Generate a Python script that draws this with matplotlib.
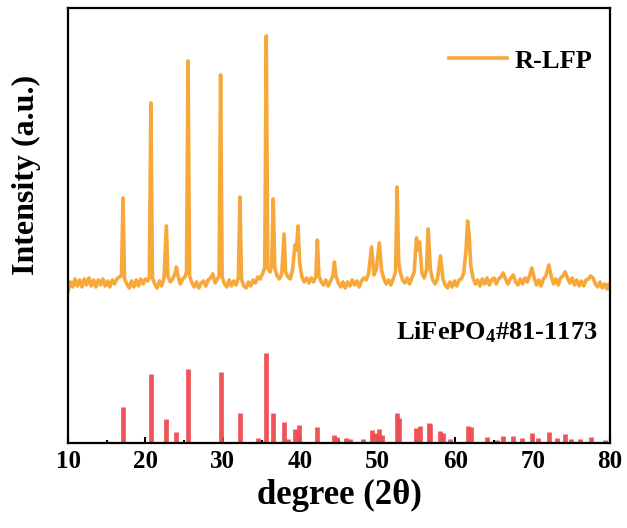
import numpy as np
import matplotlib
matplotlib.use("Agg")
import matplotlib.pyplot as plt
from matplotlib.ticker import MultipleLocator

plt.rcParams['font.family'] = ['Liberation Serif', 'DejaVu Serif']
plt.rcParams['font.weight'] = 'bold'
plt.rcParams['mathtext.fontset'] = 'custom'
plt.rcParams['mathtext.rm'] = 'Liberation Serif:bold'
plt.rcParams['mathtext.default'] = 'rm'

# ---------------- data ----------------
rlfp_2theta = [
    10.0, 10.3, 10.6, 10.9, 11.2, 11.5, 11.8, 12.1, 12.4, 12.7, 13.0, 13.3, 13.6, 13.9,
    14.2, 14.5, 14.8, 15.1, 15.4, 15.7, 16.0, 16.3, 16.6, 16.9, 17.1, 17.3, 17.6, 17.9,
    18.2, 18.5, 18.8, 19.1, 19.4, 19.7, 20.0, 20.3, 20.5, 20.7, 20.9, 21.2, 21.5, 21.8,
    22.1, 22.4, 22.7, 22.9, 23.2, 23.5, 23.8, 24.0, 24.2, 24.5, 24.8, 25.1, 25.3, 25.5,
    25.7, 26.0, 26.3, 26.6, 26.9, 27.2, 27.5, 27.8, 28.1, 28.4, 28.7, 29.0, 29.3, 29.5,
    29.7, 29.9, 30.2, 30.5, 30.8, 31.1, 31.4, 31.7, 32.0, 32.2, 32.4, 32.7, 33.0, 33.3,
    33.6, 33.9, 34.2, 34.5, 34.8, 35.1, 35.4, 35.6, 35.8, 36.1, 36.3, 36.5, 36.7, 37.0,
    37.3, 37.6, 37.9, 38.1, 38.4, 38.7, 39.0, 39.3, 39.5, 39.7, 39.9, 40.2, 40.5, 40.8,
    41.1, 41.4, 41.7, 42.0, 42.2, 42.4, 42.7, 43.0, 43.3, 43.6, 43.9, 44.2, 44.4, 44.6,
    44.9, 45.2, 45.5, 45.8, 46.1, 46.4, 46.7, 47.0, 47.3, 47.6, 47.9, 48.2, 48.5, 48.8,
    49.2, 49.5, 49.8, 50.2, 50.5, 50.8, 51.1, 51.4, 51.7, 52.0, 52.3, 52.5, 52.7, 52.9,
    53.2, 53.5, 53.8, 54.1, 54.4, 54.7, 55.0, 55.2, 55.4, 55.7, 56.0, 56.3, 56.5, 56.8,
    57.1, 57.4, 57.7, 58.1, 58.4, 58.7, 59.0, 59.3, 59.6, 59.9, 60.2, 60.5, 60.8, 61.1,
    61.4, 61.6, 61.8, 62.0, 62.3, 62.6, 62.9, 63.2, 63.5, 63.8, 64.1, 64.4, 64.7, 65.0,
    65.3, 65.6, 65.9, 66.2, 66.5, 66.8, 67.1, 67.5, 67.8, 68.1, 68.4, 68.7, 69.0, 69.3,
    69.6, 69.9, 70.2, 70.5, 70.8, 71.1, 71.4, 71.7, 72.1, 72.4, 72.7, 73.0, 73.3, 73.6,
    73.9, 74.2, 74.5, 74.8, 75.1, 75.4, 75.7, 76.0, 76.3, 76.6, 76.9, 77.2, 77.5, 77.8,
    78.1, 78.4, 78.7, 79.0, 79.3, 79.6, 79.8, 80.0,
]
rlfp_int = [
    1520, 1610, 1560, 1640, 1570, 1630, 1560, 1640, 1580, 1650, 1570, 1630, 1560, 1630,
    1580, 1640, 1570, 1620, 1560, 1630, 1590, 1640, 1660, 1670, 2450, 1640, 1590, 1550,
    1620, 1560, 1630, 1570, 1640, 1590, 1640, 1620, 1660, 3400, 1650, 1590, 1550, 1620,
    1570, 1650, 2170, 1670, 1610, 1640, 1690, 1760, 1670, 1590, 1640, 1660, 1710, 3820,
    1670, 1600, 1560, 1610, 1550, 1600, 1620, 1570, 1630, 1650, 1690, 1600, 1640, 1670,
    3680, 1660, 1590, 1560, 1630, 1570, 1620, 1580, 1650, 2460, 1640, 1570, 1550, 1610,
    1570, 1630, 1600, 1660, 1640, 1690, 1750, 4070, 1750, 1710, 1780, 2440, 1750, 1670,
    1640, 1690, 2090, 1710, 1660, 1640, 1730, 1980, 1930, 2170, 1810, 1660, 1610, 1650,
    1600, 1650, 1610, 1660, 2030, 1670, 1610, 1580, 1630, 1570, 1620, 1670, 1810, 1670,
    1600, 1560, 1610, 1550, 1610, 1570, 1630, 1580, 1620, 1560, 1620, 1650, 1630, 1690,
    1960, 1680, 1730, 2000, 1720, 1640, 1590, 1630, 1580, 1640, 1710, 2560, 1810, 1710,
    1630, 1600, 1650, 1590, 1650, 1710, 2050, 1930, 2010, 1700, 1650, 1730, 2140, 1730,
    1630, 1590, 1640, 1870, 1650, 1580, 1550, 1610, 1560, 1620, 1570, 1630, 1640, 1700,
    1930, 2220, 2080, 1780, 1650, 1590, 1630, 1570, 1640, 1590, 1650, 1580, 1630, 1650,
    1590, 1640, 1660, 1700, 1640, 1590, 1640, 1680, 1610, 1580, 1640, 1590, 1650, 1610,
    1670, 1750, 1650, 1580, 1630, 1570, 1640, 1670, 1780, 1670, 1590, 1640, 1580, 1650,
    1670, 1710, 1650, 1600, 1650, 1580, 1630, 1570, 1620, 1570, 1630, 1640, 1670, 1650,
    1590, 1560, 1610, 1550, 1590, 1540, 1590, 1550,
]

# LiFePO4 reference card #81-1173 (2theta, relative intensity)
ref_2theta = [17.1, 20.7, 22.7, 24.0, 25.5, 29.7, 32.2, 34.5, 35.6, 36.5, 37.9, 38.4,
              39.3, 39.8, 42.2, 44.3, 44.7, 45.9, 46.4, 48.1, 49.2, 49.6, 50.2, 50.5,
              52.5, 52.8, 55.0, 55.4, 56.6, 56.8, 58.1, 58.4, 59.3, 61.7, 62.1, 64.1,
              65.4, 66.2, 67.5, 68.6, 69.9, 70.7, 72.1, 73.1, 74.2, 75.0, 76.1, 77.6, 79.3]
ref_int = [360, 690, 240, 110, 740, 710, 300, 50, 900, 300, 210, 40,
           140, 180, 160, 80, 60, 50, 40, 40, 130, 100, 140, 80,
           300, 250, 150, 170, 200, 190, 120, 100, 40, 170, 160, 60,
           30, 70, 70, 50, 100, 50, 110, 50, 90, 40, 40, 60, 30]

orange = "#f7a83a"
red = "#ef4b50"

# ---------------- figure ----------------
fig = plt.figure(figsize=(6.27, 5.28), dpi=100)
ax = fig.add_axes([0.1085, 0.161, 0.8645, 0.824])

ax.plot(rlfp_2theta, rlfp_int, color=orange, lw=2.6, solid_joinstyle='round', label="R-LFP")
ax.vlines(ref_2theta, 0, ref_int, color=red, lw=3.4, alpha=0.95)

ax.text(78.4, 1110, "LiFePO$_4$#81-1173", ha="right", va="center",
        fontsize=19, fontweight="bold")

ax.legend(loc="upper right", bbox_to_anchor=(1.012, 0.96), frameon=False,
          prop={'size': 19, 'weight': 'bold'}, handlelength=2.2, handletextpad=0.3)

ax.set_xlim(10, 80)
ax.set_ylim(0, 4350)
ax.xaxis.set_major_locator(MultipleLocator(10))
ax.xaxis.set_minor_locator(MultipleLocator(5))
ax.set_yticks([])
ax.tick_params(axis='x', which='major', direction='in', length=4, width=1.5,
               labelsize=18, pad=5)
ax.tick_params(axis='x', which='minor', direction='in', length=2.5, width=1.5)
for sp in ax.spines.values():
    sp.set_linewidth(1.6)

ax.set_xlabel("degree (2θ)", fontsize=25, fontweight="bold", labelpad=4)
ax.set_ylabel("Intensity (a.u.)", fontsize=23, fontweight="bold")
ax.yaxis.set_label_coords(-0.05, 0.615)

fig.savefig("out.png", dpi=100)
